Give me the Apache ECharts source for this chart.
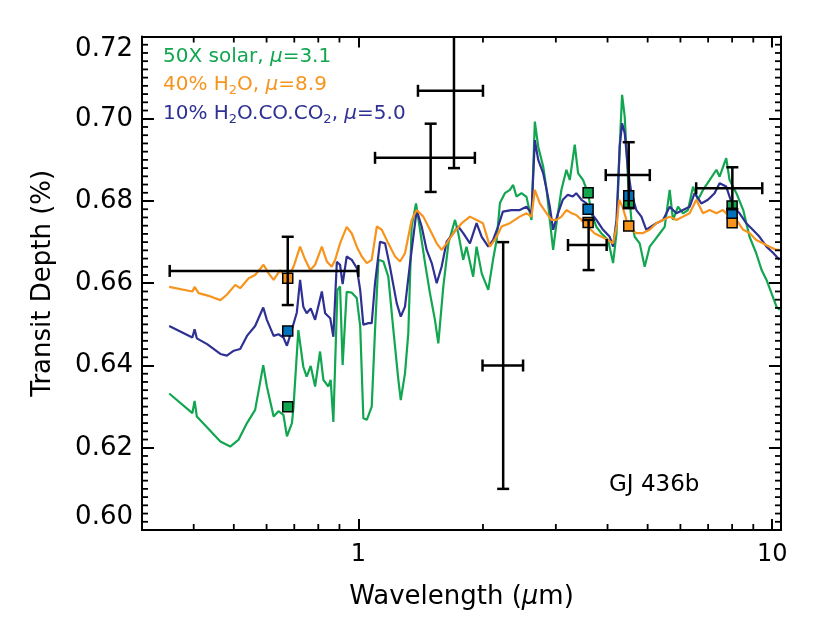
<!DOCTYPE html>
<html>
<head>
<meta charset="utf-8">
<script src="https://cdn.jsdelivr.net/npm/echarts@6/dist/echarts.min.js"></script>
<style>
  html, body { margin: 0; padding: 0; background: #fff; }
  #chart { width: 830px; height: 624px; }
</style>
</head>
<body>
<div id="chart"></div>
<script>
// model spectra (wavelength in micron, transit depth in %)
const greenWl = [0.349, 0.397, 0.402, 0.407, 0.464, 0.490, 0.513, 0.538, 0.563, 0.589, 0.601, 0.624, 0.641, 0.659, 0.672, 0.691, 0.697, 0.716, 0.736, 0.750, 0.767, 0.786, 0.808, 0.823, 0.846, 0.857, 0.870, 0.890, 0.903, 0.916, 0.937, 0.964, 0.991, 1.010, 1.028, 1.048, 1.077, 1.097, 1.118, 1.149, 1.181, 1.215, 1.249, 1.266, 1.296, 1.320, 1.345, 1.378, 1.409, 1.449, 1.489, 1.531, 1.560, 1.604, 1.651, 1.712, 1.743, 1.792, 1.825, 1.894, 1.930, 1.986, 2.060, 2.115, 2.158, 2.198, 2.259, 2.323, 2.366, 2.410, 2.478, 2.548, 2.620, 2.669, 2.720, 2.797, 2.850, 2.901, 2.955, 3.011, 3.094, 3.182, 3.242, 3.333, 3.395, 3.491, 3.590, 3.657, 3.760, 3.868, 4.012, 4.125, 4.204, 4.280, 4.337, 4.401, 4.483, 4.567, 4.652, 4.783, 4.918, 5.056, 5.200, 5.346, 5.497, 5.652, 5.757, 5.920, 6.087, 6.259, 6.436, 6.617, 6.803, 7.058, 7.331, 7.461, 7.741, 7.887, 8.192, 8.510, 8.814, 9.148, 9.428, 9.687, 9.958, 10.24, 10.43];
const greenDepth = [0.6332, 0.6284, 0.6314, 0.6276, 0.6215, 0.6203, 0.6219, 0.6260, 0.6292, 0.6401, 0.6349, 0.6276, 0.6289, 0.6280, 0.6228, 0.6260, 0.6300, 0.6486, 0.6397, 0.6373, 0.6399, 0.6349, 0.6434, 0.6365, 0.6349, 0.6365, 0.6263, 0.6584, 0.6592, 0.6401, 0.6579, 0.6577, 0.6564, 0.6496, 0.6272, 0.6268, 0.6300, 0.6486, 0.6657, 0.6653, 0.6616, 0.6486, 0.6365, 0.6316, 0.6381, 0.6478, 0.6738, 0.6794, 0.6730, 0.6649, 0.6576, 0.6511, 0.6454, 0.6592, 0.6698, 0.6754, 0.6722, 0.6657, 0.6689, 0.6616, 0.6689, 0.6624, 0.6584, 0.6657, 0.6705, 0.6795, 0.6819, 0.6827, 0.6839, 0.6811, 0.6819, 0.6810, 0.6754, 0.6993, 0.6932, 0.6883, 0.6827, 0.6754, 0.6681, 0.6746, 0.6827, 0.6876, 0.6851, 0.6937, 0.6868, 0.6851, 0.6819, 0.6770, 0.6737, 0.6721, 0.6705, 0.6649, 0.6721, 0.6932, 0.7058, 0.7005, 0.6851, 0.6754, 0.6713, 0.6697, 0.6640, 0.6689, 0.6705, 0.6721, 0.6737, 0.6827, 0.6754, 0.6786, 0.6770, 0.6778, 0.6835, 0.6803, 0.6827, 0.6851, 0.6876, 0.6859, 0.6904, 0.6851, 0.6819, 0.6778, 0.6713, 0.6673, 0.6632, 0.6608, 0.6576, 0.6543, 0.6535];

const blueWl = [0.349, 0.397, 0.402, 0.407, 0.431, 0.464, 0.481, 0.500, 0.518, 0.538, 0.563, 0.589, 0.601, 0.624, 0.641, 0.659, 0.672, 0.691, 0.710, 0.723, 0.736, 0.750, 0.767, 0.786, 0.816, 0.831, 0.855, 0.870, 0.887, 0.903, 0.916, 0.937, 0.964, 0.991, 1.010, 1.028, 1.057, 1.077, 1.097, 1.128, 1.160, 1.192, 1.238, 1.266, 1.296, 1.333, 1.383, 1.422, 1.462, 1.504, 1.546, 1.589, 1.634, 1.696, 1.743, 1.792, 1.860, 1.930, 1.986, 2.060, 2.115, 2.174, 2.234, 2.342, 2.455, 2.548, 2.620, 2.669, 2.720, 2.797, 2.850, 2.901, 2.955, 3.036, 3.118, 3.207, 3.297, 3.360, 3.460, 3.559, 3.657, 3.760, 3.902, 4.049, 4.125, 4.204, 4.280, 4.337, 4.401, 4.483, 4.567, 4.695, 4.829, 4.963, 5.103, 5.248, 5.446, 5.652, 5.867, 6.087, 6.316, 6.494, 6.740, 6.993, 7.256, 7.461, 7.741, 8.035, 8.338, 8.652, 8.976, 9.318, 9.687, 10.07, 10.41];
const blueDepth = [0.6496, 0.6468, 0.6488, 0.6466, 0.6452, 0.6428, 0.6424, 0.6436, 0.6440, 0.6472, 0.6496, 0.6541, 0.6511, 0.6472, 0.6476, 0.6468, 0.6448, 0.6488, 0.6529, 0.6608, 0.6543, 0.6527, 0.6539, 0.6511, 0.6580, 0.6527, 0.6515, 0.6470, 0.6652, 0.6645, 0.6598, 0.6665, 0.6657, 0.6637, 0.6584, 0.6499, 0.6503, 0.6503, 0.6600, 0.6701, 0.6697, 0.6640, 0.6551, 0.6519, 0.6543, 0.6649, 0.6778, 0.6738, 0.6681, 0.6649, 0.6600, 0.6640, 0.6701, 0.6722, 0.6738, 0.6722, 0.6697, 0.6746, 0.6713, 0.6689, 0.6705, 0.6737, 0.6774, 0.6778, 0.6778, 0.6786, 0.6770, 0.6948, 0.6900, 0.6867, 0.6827, 0.6786, 0.6730, 0.6770, 0.6803, 0.6815, 0.6811, 0.6819, 0.6803, 0.6794, 0.6770, 0.6754, 0.6730, 0.6713, 0.6689, 0.6754, 0.6932, 0.6989, 0.6965, 0.6876, 0.6819, 0.6778, 0.6762, 0.6730, 0.6738, 0.6746, 0.6754, 0.6786, 0.6770, 0.6778, 0.6786, 0.6819, 0.6794, 0.6803, 0.6819, 0.6843, 0.6835, 0.6786, 0.6770, 0.6746, 0.6730, 0.6713, 0.6689, 0.6673, 0.6657];

const orangeWl = [0.349, 0.397, 0.402, 0.411, 0.439, 0.464, 0.481, 0.504, 0.518, 0.543, 0.563, 0.590, 0.607, 0.624, 0.647, 0.672, 0.697, 0.723, 0.744, 0.765, 0.786, 0.816, 0.839, 0.862, 0.879, 0.903, 0.937, 0.964, 0.991, 1.019, 1.048, 1.077, 1.108, 1.139, 1.181, 1.226, 1.261, 1.296, 1.345, 1.383, 1.435, 1.489, 1.546, 1.589, 1.634, 1.696, 1.777, 1.860, 1.930, 2.000, 2.079, 2.158, 2.218, 2.323, 2.455, 2.548, 2.620, 2.669, 2.744, 2.850, 2.928, 3.011, 3.094, 3.182, 3.278, 3.360, 3.460, 3.590, 3.725, 3.868, 4.012, 4.125, 4.204, 4.266, 4.347, 4.442, 4.567, 4.695, 4.870, 5.056, 5.248, 5.446, 5.652, 5.867, 6.087, 6.316, 6.555, 6.803, 7.058, 7.331, 7.597, 7.887, 8.192, 8.510, 8.814, 9.148, 9.495, 9.850, 10.24, 10.43];
const orangeDepth = [0.6591, 0.6580, 0.6591, 0.6576, 0.6568, 0.6559, 0.6572, 0.6596, 0.6588, 0.6612, 0.6620, 0.6645, 0.6624, 0.6608, 0.6632, 0.6608, 0.6640, 0.6689, 0.6657, 0.6632, 0.6645, 0.6689, 0.6653, 0.6640, 0.6657, 0.6697, 0.6737, 0.6721, 0.6689, 0.6665, 0.6649, 0.6657, 0.6738, 0.6730, 0.6697, 0.6665, 0.6653, 0.6673, 0.6754, 0.6778, 0.6762, 0.6730, 0.6697, 0.6681, 0.6697, 0.6722, 0.6746, 0.6762, 0.6754, 0.6746, 0.6689, 0.6713, 0.6738, 0.6746, 0.6762, 0.6770, 0.6762, 0.6827, 0.6794, 0.6770, 0.6754, 0.6754, 0.6762, 0.6778, 0.6770, 0.6766, 0.6754, 0.6737, 0.6721, 0.6713, 0.6705, 0.6697, 0.6737, 0.6803, 0.6786, 0.6754, 0.6730, 0.6722, 0.6722, 0.6730, 0.6746, 0.6754, 0.6762, 0.6754, 0.6762, 0.6770, 0.6803, 0.6770, 0.6778, 0.6770, 0.6778, 0.6762, 0.6754, 0.6730, 0.6722, 0.6705, 0.6697, 0.6689, 0.6681, 0.6681];

// band-averaged model points
const binWl = [0.675, 3.59, 4.50, 8.00];
const greenBin = [0.6300, 0.6820, 0.6794, 0.6788];
const blueBin = [0.6484, 0.6780, 0.6813, 0.6770];
const orangeBin = [0.6612, 0.6748, 0.6739, 0.6747];

// observations with error bars
const obsWl = [0.675, 1.495, 1.702, 2.238, 3.60, 4.50, 8.01];
const obsWlLo = [0.350, 1.097, 1.393, 1.995, 3.21, 3.96, 6.55];
const obsWlHi = [1.000, 1.912, 2.000, 2.500, 3.98, 5.06, 9.46];
const obsDepth = [0.6630, 0.6905, 0.7068, 0.6400, 0.6693, 0.6863, 0.6831];
const obsErr = [0.0083, 0.0083, 0.0188, 0.0300, 0.0061, 0.0080, 0.0051];

// axis ticks
const yTicks = [0.60, 0.62, 0.64, 0.66, 0.68, 0.70, 0.72];
const yMinorTicks = [
  0.602, 0.604, 0.606, 0.608, 0.610, 0.612, 0.614, 0.616, 0.618,
  0.622, 0.624, 0.626, 0.628, 0.630, 0.632, 0.634, 0.636, 0.638,
  0.642, 0.644, 0.646, 0.648, 0.650, 0.652, 0.654, 0.656, 0.658,
  0.662, 0.664, 0.666, 0.668, 0.670, 0.672, 0.674, 0.676, 0.678,
  0.682, 0.684, 0.686, 0.688, 0.690, 0.692, 0.694, 0.696, 0.698,
  0.702, 0.704, 0.706, 0.708, 0.710, 0.712, 0.714, 0.716, 0.718
];
const xLabels = [1, 10];
const xMinorTicks = [0.4, 0.5, 0.6, 0.7, 0.8, 0.9, 2, 3, 4, 5, 6, 7, 8, 9];

const GREEN = '#12a650';
const ORANGE = '#f7941d';
const INDIGO = '#2e3192';
const FONT = 'DejaVu Sans';

const zip = (xs, ys) => xs.map((x, i) => [x, ys[i]]);

const chart = echarts.init(document.getElementById('chart'), null, { renderer: 'canvas' });

const tickStyle = { color: '#000', width: 2 };

function xAxisOpt(pos) {
  return {
    type: 'log',
    logBase: 10,
    min: 0.3,
    max: 10.5,
    position: pos,
    axisLine: { show: true, onZero: false, lineStyle: tickStyle },
    axisTick: { show: true, inside: true, length: 11, lineStyle: tickStyle },
    splitLine: { show: false },
    axisLabel: {
      show: pos === 'bottom',
      showMinLabel: false,
      showMaxLabel: false,
      margin: 13,
      color: '#000',
      fontFamily: FONT,
      fontSize: 24,
      formatter: v => (xLabels.includes(Math.round(v * 1000) / 1000) ? String(Math.round(v)) : '')
    }
  };
}

function yAxisOpt(pos) {
  return {
    type: 'value',
    min: 0.6,
    max: 0.72,
    interval: 0.02,
    position: pos,
    axisLine: { show: true, onZero: false, lineStyle: tickStyle },
    axisTick: { show: true, inside: true, length: 12, lineStyle: tickStyle },
    splitLine: { show: false },
    axisLabel: {
      show: pos === 'left',
      margin: 9,
      color: '#000',
      fontFamily: FONT,
      fontSize: 26,
      verticalAlignMinLabel: 'bottom',
      verticalAlignMaxLabel: 'top',
      formatter: v => {
        const t = yTicks.find(k => Math.abs(k - v) < 1e-6);
        return t === undefined ? '' : t.toFixed(2);
      }
    }
  };
}

const xBottom = Object.assign(xAxisOpt('bottom'), {
  name: 'Wavelength ({i|μ}m)',
  nameLocation: 'middle',
  nameGap: 54,
  nameTextStyle: {
    color: '#000', fontFamily: FONT, fontSize: 26,
    rich: { i: { fontStyle: 'italic', fontFamily: FONT, fontSize: 26, color: '#000' } }
  }
});
const yLeft = Object.assign(yAxisOpt('left'), {
  name: 'Transit Depth (%)',
  nameLocation: 'middle',
  nameGap: 86,
  nameRotate: 90,
  nameTextStyle: { color: '#000', fontFamily: FONT, fontSize: 26 }
});

function squareSeries(data, fill) {
  return {
    type: 'scatter',
    data: zip(binWl, data),
    symbol: 'rect',
    symbolSize: 10,
    itemStyle: { color: fill, borderColor: '#000', borderWidth: 1.5, opacity: 1 },
    z: 4,
    silent: true
  };
}

function lineSeries(wl, depth, color) {
  return {
    type: 'line',
    data: zip(wl, depth),
    showSymbol: false,
    symbol: 'none',
    lineStyle: { color: color, width: 2.2 },
    z: 2,
    silent: true
  };
}

const errData = obsWl.map((w, i) => [w, obsDepth[i], obsWlLo[i], obsWlHi[i], obsDepth[i] - obsErr[i], obsDepth[i] + obsErr[i]]);

// minor tick marks: [wavelength, depth, 0 = on the x axes / 1 = on the y axes]
const minorTickData = xMinorTicks.map(w => [w, 0.6, 0]).concat(yMinorTicks.map(d => [1, d, 1]));

const rich = (c, extra) => Object.assign({ fill: c, fontFamily: FONT, fontSize: 20, lineHeight: 24, verticalAlign: 'middle' }, extra || {});
const legendRich = {
  g: rich(GREEN), gi: rich(GREEN, { fontStyle: 'italic' }),
  o: rich(ORANGE), oi: rich(ORANGE, { fontStyle: 'italic' }),
  os: rich(ORANGE, { fontSize: 13, lineHeight: 12, verticalAlign: 'bottom' }),
  b: rich(INDIGO), bi: rich(INDIGO, { fontStyle: 'italic' }),
  bs: rich(INDIGO, { fontSize: 13, lineHeight: 12, verticalAlign: 'bottom' })
};

const option = {
  animation: false,
  backgroundColor: '#fff',
  grid: { left: 142, right: 49, top: 36.5, bottom: 94, containLabel: false, outerBoundsMode: 'none' },
  xAxis: [xBottom, xAxisOpt('top')],
  yAxis: [yLeft, yAxisOpt('right')],
  series: [
    lineSeries(greenWl, greenDepth, GREEN),
    lineSeries(blueWl, blueDepth, INDIGO),
    lineSeries(orangeWl, orangeDepth, ORANGE),
    squareSeries(orangeBin, ORANGE),
    squareSeries(greenBin, GREEN),
    squareSeries(blueBin, '#0072bc'),
    {
      // observed points with x and y error bars
      type: 'custom',
      data: errData,
      encode: { x: 0, y: 1 },
      z: 5,
      silent: true,
      renderItem: (params, api) => {
        const w = api.value(0), d = api.value(1);
        const rect = params.coordSys;
        const c = api.coord([w, d]);
        const l = api.coord([api.value(2), d]);
        const r = api.coord([api.value(3), d]);
        const b = api.coord([w, api.value(4)]);
        const t = api.coord([w, api.value(5)]);
        const cap = 6;
        const st = { stroke: '#000', lineWidth: 2.5 };
        const topY = Math.max(t[1], rect.y);
        const kids = [
          { type: 'line', shape: { x1: l[0], y1: c[1], x2: r[0], y2: c[1] }, style: st },
          { type: 'line', shape: { x1: c[0], y1: topY, x2: c[0], y2: b[1] }, style: st },
          { type: 'line', shape: { x1: l[0], y1: c[1] - cap, x2: l[0], y2: c[1] + cap }, style: st },
          { type: 'line', shape: { x1: r[0], y1: c[1] - cap, x2: r[0], y2: c[1] + cap }, style: st },
          { type: 'line', shape: { x1: c[0] - cap, y1: b[1], x2: c[0] + cap, y2: b[1] }, style: st }
        ];
        if (t[1] >= rect.y) {
          kids.push({ type: 'line', shape: { x1: c[0] - cap, y1: t[1], x2: c[0] + cap, y2: t[1] }, style: st });
        }
        return { type: 'group', children: kids };
      }
    },
    {
      // minor ticks on all four sides of the frame
      type: 'custom',
      data: minorTickData,
      encode: { x: 0, y: 1 },
      z: 6,
      silent: true,
      clip: false,
      renderItem: (params, api) => {
        const rect = params.coordSys;
        const p = api.coord([api.value(0), api.value(1)]);
        const st = { stroke: '#000', lineWidth: 1.8 };
        const len = 6;
        let kids;
        if (api.value(2) === 0) {
          const yb = rect.y + rect.height;
          kids = [
            { type: 'line', shape: { x1: p[0], y1: yb, x2: p[0], y2: yb - len }, style: st },
            { type: 'line', shape: { x1: p[0], y1: rect.y, x2: p[0], y2: rect.y + len }, style: st }
          ];
        } else {
          const xr = rect.x + rect.width;
          kids = [
            { type: 'line', shape: { x1: rect.x, y1: p[1], x2: rect.x + len, y2: p[1] }, style: st },
            { type: 'line', shape: { x1: xr, y1: p[1], x2: xr - len, y2: p[1] }, style: st }
          ];
        }
        return { type: 'group', children: kids };
      }
    }
  ],
  graphic: [
    {
      type: 'text', left: 163, top: 47, z: 10,
      style: { text: '{g|50X solar, }{gi|μ}{g|=3.1}', rich: legendRich }
    },
    {
      type: 'text', left: 163, top: 75, z: 10,
      style: { text: '{o|40% H}{os|2}{o|O, }{oi|μ}{o|=8.9}', rich: legendRich }
    },
    {
      type: 'text', left: 163, top: 104, z: 10,
      style: { text: '{b|10% H}{bs|2}{b|O.CO.CO}{bs|2}{b|, }{bi|μ}{b|=5.0}', rich: legendRich }
    },
    {
      type: 'text', left: 609, top: 474, z: 10,
      style: { text: 'GJ 436b', fill: '#000', font: '23px "DejaVu Sans"' }
    }
  ]
};

chart.setOption(option);
</script>
</body>
</html>
